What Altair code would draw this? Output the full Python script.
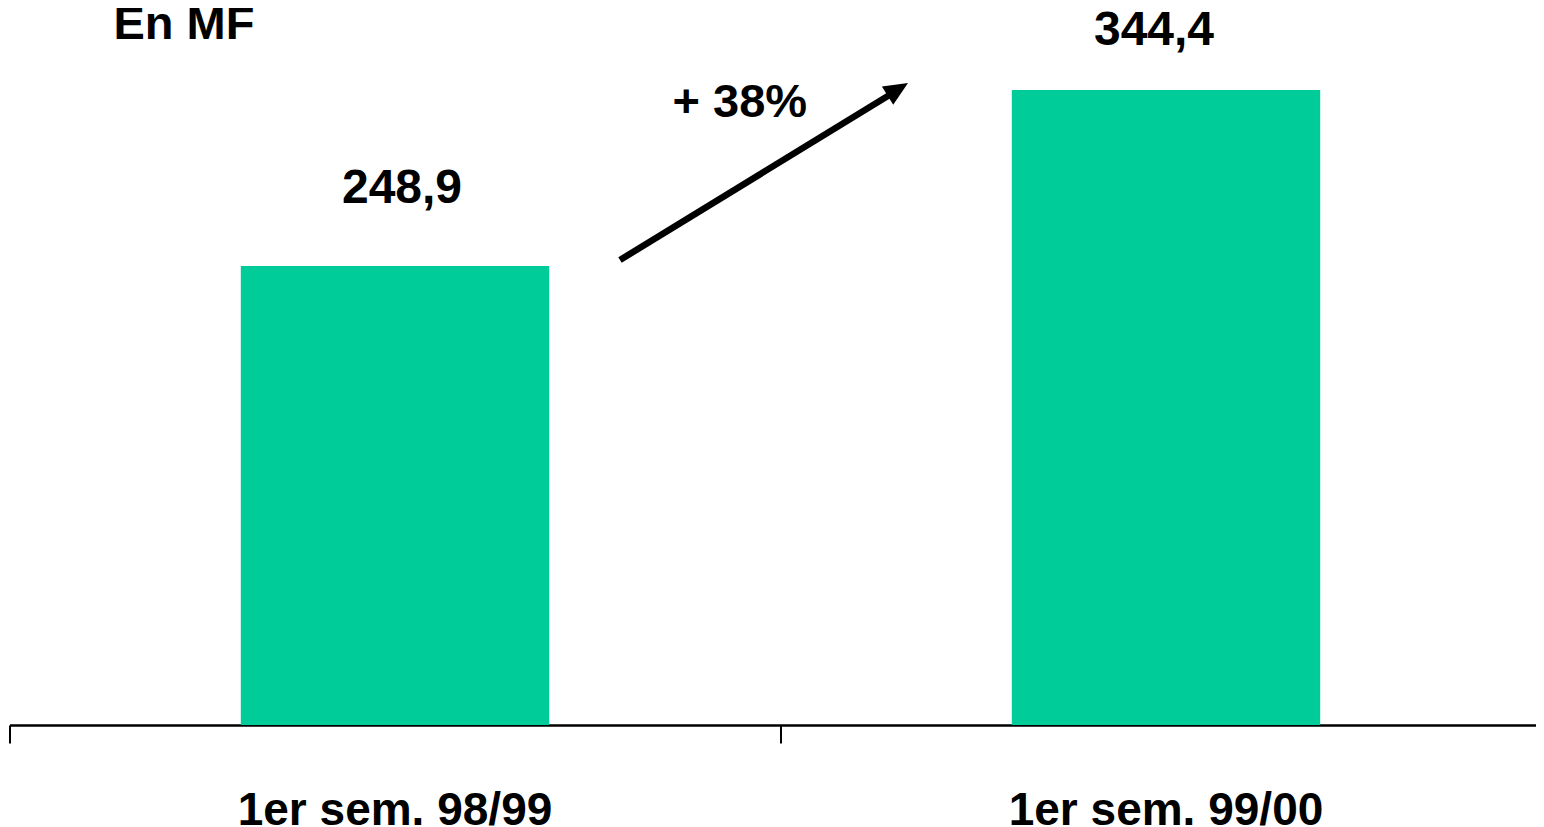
import altair as alt
import pandas as pd

categories = ["1er sem. 98/99", "1er sem. 99/00"]
values = [248.9, 344.4]
value_labels = ["248,9", "344,4"]
label_pos = [283.0, 369.0]

GREEN = "#00CC99"
FONT = "Liberation Sans"

df = pd.DataFrame({
    "idx": list(range(len(categories))),
    "cat": categories,
    "val": values,
    "lab": value_labels,
    "lpos": label_pos,
})

W = 1526.5
STEP = 771.0
xscale = alt.Scale(domain=[-0.5, -0.5 + W / STEP], nice=False, zero=False)
yscale = alt.Scale(domain=[0, 388.8], nice=False, zero=True)

bars = alt.Chart(df).transform_calculate(
    x0="datum.idx - 0.2", x1="datum.idx + 0.2"
).mark_bar(color=GREEN).encode(
    x=alt.X(
        "x0:Q",
        scale=xscale,
        title=None,
        axis=alt.Axis(
            values=[-0.5, 0.5],
            labels=False,
            tickSize=18,
            tickWidth=2,
            tickColor="black",
            domainColor="black",
            domainWidth=2.5,
            grid=False,
        ),
    ),
    x2="x1:Q",
    y=alt.Y("val:Q", scale=yscale, axis=None),
    y2=alt.datum(0),
)

def value_text(i, dx):
    return alt.Chart(df).transform_filter(
        alt.datum.idx == i
    ).mark_text(
        font=FONT, fontSize=48, fontWeight="bold", color="black",
        baseline="alphabetic", align="center", dx=dx
    ).encode(
        x=alt.X("idx:Q", scale=xscale),
        y=alt.Y("lpos:Q", scale=yscale),
        text="lab:N",
    )

cat_labels = alt.Chart(df).mark_text(
    font=FONT, fontSize=46, fontWeight="bold", color="black",
    baseline="alphabetic", align="center"
).encode(
    x=alt.X("idx:Q", scale=xscale),
    y=alt.value(817),
    text="cat:N",
)

one = pd.DataFrame({"a": [0]})

unit = alt.Chart(one).mark_text(
    font=FONT, fontSize=47, fontWeight="bold", color="black", align="left", baseline="alphabetic"
).encode(x=alt.value(104), y=alt.value(31), text=alt.value("En MF"))

growth = alt.Chart(one).mark_text(
    font=FONT, fontSize=47, fontWeight="bold", color="black", align="left", baseline="alphabetic"
).encode(x=alt.value(663), y=alt.value(109), text=alt.value("+ 38%"))

arrow_line = alt.Chart(one).mark_rule(color="black", strokeWidth=6.5, strokeCap="butt").encode(
    x=alt.value(610.5), y=alt.value(252), x2=alt.value(886.5), y2=alt.value(83)
)

arrow_head = alt.Chart(one).mark_point(
    shape="M0,0 L-0.45,1 L0.45,1 Z",
    filled=True,
    size=2304,
    angle=58.4,
    color="black",
    opacity=1,
    strokeWidth=0,
).encode(x=alt.value(898.5), y=alt.value(75))

chart = alt.layer(
    bars, value_text(0, 7), value_text(1, -12), cat_labels, unit, growth, arrow_line, arrow_head
).properties(
    width=W,
    height=717,
    padding={"left": 1.5, "top": 0, "right": 0, "bottom": 102},
    autosize=alt.AutoSizeParams(type="none"),
).configure_view(stroke=None)

chart.save("out.html", embed_options={"renderer": "svg", "actions": False})
